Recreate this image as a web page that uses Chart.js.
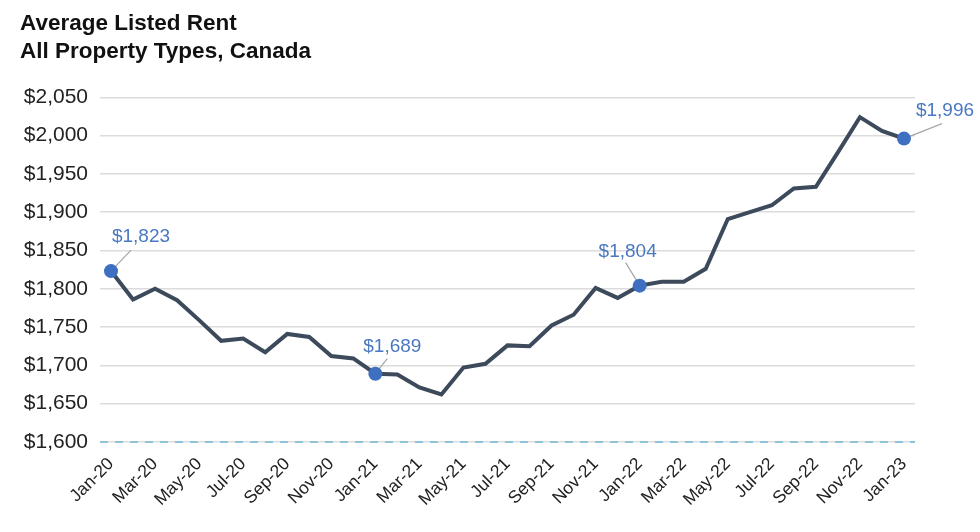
<!DOCTYPE html>
<html>
<head>
<meta charset="utf-8">
<script src="https://cdn.jsdelivr.net/npm/chart.js@4"></script>
<style>
  body { margin: 0; background: #fff; }
  #wrap { width: 980px; height: 532px; }
</style>
</head>
<body>
<div id="wrap"><canvas id="myChart"></canvas></div>
<script>
var months = ['Jan-20','Feb-20','Mar-20','Apr-20','May-20','Jun-20','Jul-20','Aug-20','Sep-20','Oct-20','Nov-20','Dec-20',
              'Jan-21','Feb-21','Mar-21','Apr-21','May-21','Jun-21','Jul-21','Aug-21','Sep-21','Oct-21','Nov-21','Dec-21',
              'Jan-22','Feb-22','Mar-22','Apr-22','May-22','Jun-22','Jul-22','Aug-22','Sep-22','Oct-22','Nov-22','Dec-22',
              'Jan-23'];
var rent = [1823,1786,1800,1785,1759,1732,1735,1717,1741,1737,1712,1709,
            1689,1688,1671,1662,1697,1702,1726,1725,1752,1766,1801,1788,
            1804,1809,1809,1826,1891,1900,1909,1931,1933,1978,2024,2006,
            1996];
var highlighted = [0, 12, 24, 36];
var calloutText = ['$1,823', '$1,689', '$1,804', '$1,996'];

// where each callout label sits relative to its dot (pixels)
var calloutPos = [
  {dx: 30, dy: -34, lx: 20, ly: -21},
  {dx: 17, dy: -27, lx: 12, ly: -15},
  {dx: -12, dy: -34, lx: -14, ly: -23},
  {dx: 41, dy: -28, lx: 38, ly: -15}
];

var callouts = {
  id: 'callouts',
  beforeDatasetsDraw: function(chart) {
    // dashed baseline at the bottom of the plot
    var a = chart.chartArea, c = chart.ctx;
    c.save();
    c.strokeStyle = '#8fc3d9';
    c.lineWidth = 2;
    c.setLineDash([8, 7]);
    c.beginPath();
    c.moveTo(a.left, a.bottom);
    c.lineTo(a.right, a.bottom);
    c.stroke();
    c.restore();
  },
  afterDatasetsDraw: function(chart) {
    var c = chart.ctx;
    var meta = chart.getDatasetMeta(0);
    c.save();
    highlighted.forEach(function(idx, i) {
      var pt = meta.data[idx];
      var p = calloutPos[i];
      c.strokeStyle = '#a6a6a6';
      c.lineWidth = 1.2;
      c.beginPath();
      c.moveTo(pt.x, pt.y);
      c.lineTo(pt.x + p.lx, pt.y + p.ly);
      c.stroke();
      c.fillStyle = '#3f6fc0';
      c.beginPath();
      c.arc(pt.x, pt.y, 7, 0, Math.PI * 2);
      c.fill();
      c.font = '19px "Liberation Sans", Arial, sans-serif';
      c.fillStyle = '#4a78c2';
      c.textAlign = 'center';
      c.textBaseline = 'middle';
      c.fillText(calloutText[i], pt.x + p.dx, pt.y + p.dy);
    });
    c.restore();
  }
};

var ctx = document.getElementById('myChart').getContext('2d');
var myChart = new Chart(ctx, {
  type: 'line',
  data: {
    labels: months,
    datasets: [{
      data: rent,
      borderColor: '#3c4a5b',
      borderWidth: 4,
      pointRadius: 0,
      tension: 0,
      fill: false
    }]
  },
  plugins: [callouts],
  options: {
    responsive: true,
    maintainAspectRatio: false,
    animation: false,
    layout: { padding: { left: 20, right: 65, top: 10, bottom: 18 } },
    plugins: {
      legend: { display: false },
      tooltip: { enabled: false },
      title: {
        display: true,
        text: ['Average Listed Rent', 'All Property Types, Canada'],
        align: 'start',
        color: '#111',
        font: { family: '"Liberation Sans", Arial, sans-serif', size: 22.5, weight: 'bold', lineHeight: 1.25 },
        padding: { top: 0, bottom: 31 }
      }
    },
    scales: {
      x: {
        offset: true,
        grid: { display: false },
        border: { display: false },
        afterFit: function(s) { s.paddingLeft = 0; },
        ticks: {
          autoSkip: false,
          maxRotation: 45,
          minRotation: 45,
          color: '#222',
          padding: 4,
          font: { family: '"Liberation Sans", Arial, sans-serif', size: 17.5 },
          callback: function(v, i) { return i % 2 === 0 ? months[i] : ''; }
        }
      },
      y: {
        min: 1600,
        max: 2050,
        border: { display: false },
        grid: { color: '#dcdcdc', lineWidth: 1.5, drawTicks: false },
        afterFit: function(s) { s.width = 80; },
        ticks: {
          stepSize: 50,
          color: '#222',
          padding: 12,
          font: { family: '"Liberation Sans", Arial, sans-serif', size: 21 },
          callback: function(v) { return '$' + v.toLocaleString('en-US'); }
        }
      }
    }
  }
});
</script>
</body>
</html>
